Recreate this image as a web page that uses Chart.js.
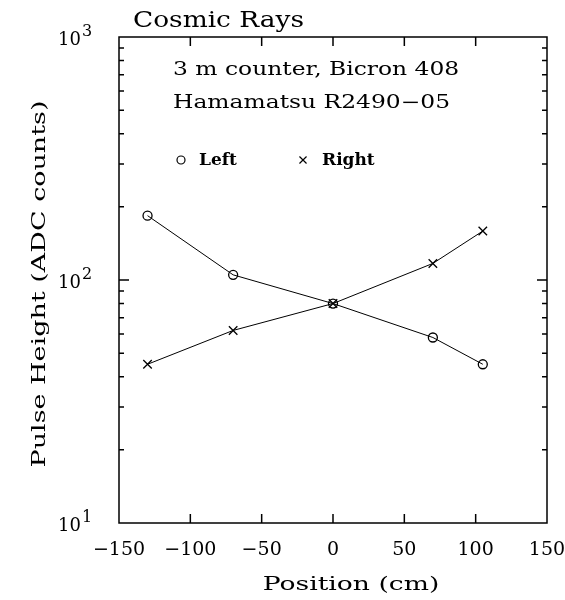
<!DOCTYPE html>
<html>
<head>
<meta charset="utf-8">
<script src="https://cdn.jsdelivr.net/npm/chart.js@4"></script>
<style>
  html,body{margin:0;padding:0;background:#fff;}
  #wrap{width:565px;height:600px;}
</style>
</head>
<body>
<div id="wrap"><canvas id="c" width="565" height="600"></canvas></div>
<script>
/* ── DATA ── */
const positions  = [-130, -70, 0, 70, 105];
const leftPulse  = [184, 105, 80, 58, 45];
const rightPulse = [45, 62, 80, 117, 159];
const xTicks = [-150, -100, -50, 0, 50, 100, 150];
const yTicks = [10, 100, 1000];
const yTickBase = '10';
const yTickExp = ['1', '2', '3'];
const yMinorTicks = [20,30,40,50,60,70,80,90,200,300,400,500,600,700,800,900];

const FONT = '"DejaVu Serif", "Liberation Serif", serif';

// text stretched sideways, the original font is a wide one
function wideText(ctx, txt, x, y, font, sx, align){
  ctx.save();
  ctx.translate(x, y);
  ctx.scale(sx, 1);
  ctx.font = font;
  ctx.textAlign = align || 'left';
  ctx.fillText(txt, 0, 0);
  ctx.restore();
}

/* ── FRAME, INNER TICKS, TEXTS ── */
const frame = {
  id:'frame',
  afterDraw(chart){
    const {ctx, chartArea:a, scales:{x,y}} = chart;
    ctx.save();
    ctx.strokeStyle='#000'; ctx.lineWidth=1.5;
    ctx.strokeRect(a.left, a.top, a.right-a.left, a.bottom-a.top);
    ctx.beginPath();
    xTicks.forEach(v=>{
      if(v===xTicks[0]||v===xTicks[xTicks.length-1]) return;
      const px=x.getPixelForValue(v);
      ctx.moveTo(px,a.bottom); ctx.lineTo(px,a.bottom-9);
      ctx.moveTo(px,a.top); ctx.lineTo(px,a.top+9);
    });
    yTicks.slice(1,-1).forEach(v=>{
      const py=y.getPixelForValue(v);
      ctx.moveTo(a.left,py); ctx.lineTo(a.left+10,py);
      ctx.moveTo(a.right,py); ctx.lineTo(a.right-10,py);
    });
    yMinorTicks.forEach(v=>{
      const py=y.getPixelForValue(v);
      ctx.moveTo(a.left,py); ctx.lineTo(a.left+5,py);
      ctx.moveTo(a.right,py); ctx.lineTo(a.right-5,py);
    });
    ctx.stroke();

    ctx.fillStyle='#000';
    ctx.textBaseline='alphabetic';

    // y tick labels with real superscripts
    yTicks.forEach((v,i)=>{
      const py=y.getPixelForValue(v);
      ctx.font='18px '+FONT; ctx.textAlign='right';
      ctx.fillText(yTickBase, 81, py+8);
      ctx.font='16px '+FONT; ctx.textAlign='left';
      ctx.fillText(yTickExp[i], 82, py-1);
    });

    wideText(ctx, 'Cosmic Rays', 133, 27, '22px '+FONT, 1.2);
    wideText(ctx, '3 m counter, Bicron 408', 173, 75, '18px '+FONT, 1.3);
    wideText(ctx, 'Hamamatsu R2490\u221205', 173, 108, '18px '+FONT, 1.3);

    // legend
    const ds=chart.data.datasets;
    ctx.save();
    ctx.lineWidth=1.2; ctx.fillStyle='rgba(0,0,0,0)';
    Chart.helpers.drawPoint(ctx,{pointStyle:ds[0].pointStyle,radius:4,borderWidth:1.2},181,160);
    Chart.helpers.drawPoint(ctx,{pointStyle:ds[1].pointStyle,radius:5,borderWidth:1.2},303,160);
    ctx.restore();
    ctx.font='bold 17px '+FONT; ctx.textAlign='left';
    ctx.fillText(ds[0].label, 199, 165);
    ctx.fillText(ds[1].label, 322, 165);

    // axis titles
    wideText(ctx, 'Position (cm)', 351, 590, '19px '+FONT, 1.4, 'center');
    ctx.translate(45, 284);
    ctx.rotate(-Math.PI/2);
    wideText(ctx, 'Pulse Height (ADC counts)', 0, 0, '19px '+FONT, 1.42, 'center');
    ctx.restore();
  }
};

new Chart(document.getElementById('c'),{
  type:'scatter',
  data:{
    datasets:[{
      label:'Left',
      data:positions.map((p,i)=>({x:p,y:leftPulse[i]})),
      showLine:true, borderColor:'#000', backgroundColor:'rgba(0,0,0,0)',
      borderWidth:1, pointStyle:'circle', pointRadius:4.5,
      pointBorderColor:'#000', pointBorderWidth:1.3
    },{
      label:'Right',
      data:positions.map((p,i)=>({x:p,y:rightPulse[i]})),
      showLine:true, borderColor:'#000', backgroundColor:'rgba(0,0,0,0)',
      borderWidth:1, pointStyle:'crossRot', pointRadius:6,
      pointBorderColor:'#000', pointBorderWidth:1.3
    }]
  },
  options:{
    responsive:false, animation:false, devicePixelRatio:1,
    layout:{padding:{top:37,right:18,left:0,bottom:0}},
    plugins:{legend:{display:false}, tooltip:{enabled:false}},
    scales:{
      x:{
        type:'linear', min:-150, max:150,
        afterBuildTicks:s=>{ s.ticks=xTicks.map(v=>({value:v})); },
        afterFit:s=>{ s.height=77; s.paddingLeft=0; s.paddingRight=0; },
        grid:{display:false}, border:{display:false},
        ticks:{color:'#000', padding:8, maxRotation:0, autoSkip:false,
          font:{family:FONT,size:19},
          callback:v=>String(v).replace('-','\u2212')}
      },
      y:{
        type:'logarithmic', min:10, max:1000,
        afterBuildTicks:s=>{ s.ticks=yTicks.map(v=>({value:v})); },
        afterFit:s=>{ s.width=119; s.paddingTop=0; s.paddingBottom=0; },
        grid:{display:false}, border:{display:false},
        ticks:{display:false}
      }
    }
  },
  plugins:[frame]
});
</script>
</body>
</html>
